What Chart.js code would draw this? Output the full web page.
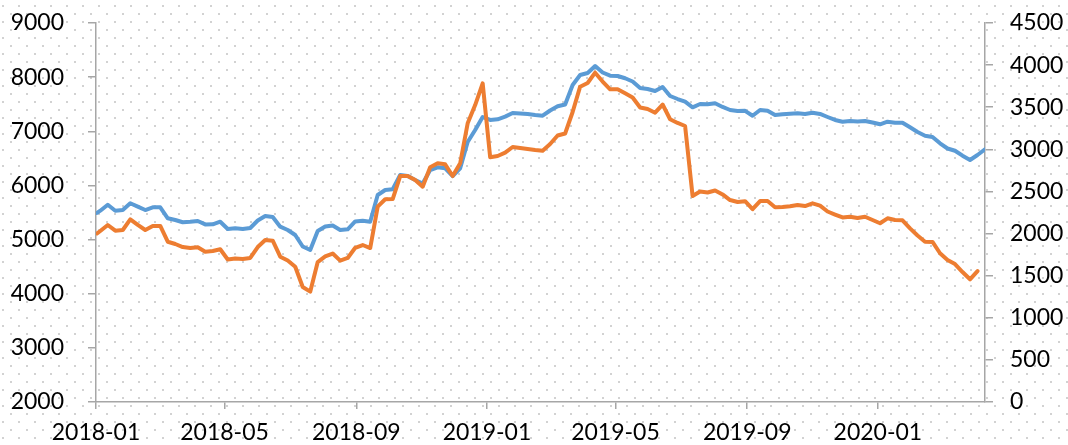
<!DOCTYPE html>
<html>
<head>
<meta charset="utf-8">
<script src="https://cdn.jsdelivr.net/npm/chart.js@4.4.1/dist/chart.umd.min.js"></script>
<style>
  html, body { margin: 0; padding: 0; background: #fff; }
  #wrap { width: 1068px; height: 445px; }
</style>
</head>
<body>
<div id="wrap"><canvas id="c" width="1068" height="445"></canvas></div>
<script>
// ---- DATA ----
const categories = [
  "2018-01-02",
  "2018-01-05","2018-01-12","2018-01-19","2018-01-26","2018-02-02","2018-02-09","2018-02-16","2018-02-23",
  "2018-03-02","2018-03-09","2018-03-16","2018-03-23","2018-03-30","2018-04-06","2018-04-13","2018-04-20","2018-04-27",
  "2018-05-04","2018-05-11","2018-05-18","2018-05-25","2018-06-01","2018-06-08","2018-06-15","2018-06-22","2018-06-29",
  "2018-07-06","2018-07-13","2018-07-20","2018-07-27","2018-08-03","2018-08-10","2018-08-17","2018-08-24","2018-08-31",
  "2018-09-07","2018-09-14","2018-09-21","2018-09-28","2018-10-05","2018-10-12","2018-10-19","2018-10-26",
  "2018-11-02","2018-11-09","2018-11-16","2018-11-23","2018-11-30","2018-12-07","2018-12-14","2018-12-21","2018-12-28",
  "2019-01-04","2019-01-11","2019-01-18","2019-01-25","2019-02-01","2019-02-08","2019-02-15","2019-02-22",
  "2019-03-01","2019-03-08","2019-03-15","2019-03-22","2019-03-29","2019-04-05","2019-04-12","2019-04-19","2019-04-26",
  "2019-05-03","2019-05-10","2019-05-17","2019-05-24","2019-05-31","2019-06-07","2019-06-14","2019-06-21","2019-06-28",
  "2019-07-05","2019-07-12","2019-07-19","2019-07-26","2019-08-02","2019-08-09","2019-08-16","2019-08-23","2019-08-30",
  "2019-09-06","2019-09-13","2019-09-20","2019-09-27","2019-10-04","2019-10-11","2019-10-18","2019-10-25",
  "2019-11-01","2019-11-08","2019-11-15","2019-11-22","2019-11-29","2019-12-06","2019-12-13","2019-12-20","2019-12-27",
  "2020-01-03","2020-01-10","2020-01-17","2020-01-24","2020-01-31","2020-02-07","2020-02-14","2020-02-21","2020-02-28",
  "2020-03-06","2020-03-13","2020-03-20","2020-03-27","2020-04-03","2020-04-10"
];

// left axis series (blue)
const seriesLeft = [
  5493,
  5533,5644,5533,5546,5670,5608,5546,5596,
  5596,5393,5362,5320,5328,5343,5280,5282,5330,
  5195,5208,5195,5214,5352,5436,5417,5238,5177,
  5084,4872,4807,5158,5241,5260,5177,5190,5334,
  5348,5330,5823,5916,5929,6193,6174,6100,
  6036,6285,6335,6316,6174,6316,6802,7024,7264,
  7209,7222,7270,7338,7329,7320,7301,7288,
  7384,7462,7495,7855,8040,8077,8206,8086,8027,
  8021,7979,7920,7800,7781,7744,7818,7652,7596,
  7547,7443,7504,7499,7517,7449,7393,7375,7378,
  7287,7393,7380,7301,7314,7325,7332,7320,
  7344,7320,7264,7209,7177,7190,7181,7190,7162,
  7129,7177,7159,7159,7074,6987,6919,6895,6778,
  6682,6641,6549,6470,6562,6667
];

// right axis series (orange)
const seriesRight = [
  2001,
  2030,2102,2034,2042,2169,2102,2042,2090,
  2090,1903,1876,1840,1828,1837,1785,1793,1813,
  1692,1704,1698,1710,1840,1923,1915,1725,1680,
  1606,1365,1310,1662,1728,1763,1678,1710,1831,
  1864,1828,2319,2407,2410,2683,2683,2636,
  2556,2787,2834,2822,2683,2834,3309,3526,3784,
  2906,2921,2960,3028,3016,3004,2992,2984,
  3063,3164,3188,3443,3744,3788,3910,3805,3713,
  3713,3665,3615,3497,3479,3435,3532,3357,3313,
  3277,2446,2499,2487,2511,2464,2398,2375,2384,
  2289,2386,2386,2312,2315,2324,2339,2327,
  2359,2331,2262,2226,2191,2200,2185,2200,2161,
  2122,2181,2161,2157,2062,1977,1903,1900,1766,
  1686,1638,1543,1457,1555,null
];

const xTickDates  = ["2018-01-01","2018-05-01","2018-09-01","2019-01-01","2019-05-01","2019-09-01","2020-01-01"];
const xTickLabels = ["2018-01","2018-05","2018-09","2019-01","2019-05","2019-09","2020-01"];

// ---- helpers ----
const BASE = Date.UTC(2018, 0, 1);
function dayOf(s) {
  const p = s.split("-").map(Number);
  return Math.round((Date.UTC(p[0], p[1] - 1, p[2]) - BASE) / 86400000);
}
const xs = categories.map(dayOf);
const leftPts = xs.map((x, i) => ({ x: x, y: seriesLeft[i] }));
const rightPts = xs.map((x, i) => ({ x: x, y: seriesRight[i] }));
const tickDays = xTickDates.map(dayOf);

const FONT = { family: "Lato, 'Open Sans', sans-serif", size: 23 };
const AXIS = "#a6a6a6";
const plain = (v) => String(v);
const fitVertical = (w) => (s) => { s.width = w; s.paddingTop = 0; s.paddingBottom = 0; };

const dotBg = {
  id: "dotBg",
  beforeDraw(chart) {
    const ctx = chart.ctx;
    ctx.save();
    ctx.fillStyle = "#ffffff";
    ctx.fillRect(0, 0, chart.width, chart.height);
    ctx.fillStyle = "#d2d2d2";
    let j = 0;
    for (let y = 5; y < chart.height; y += 8, j++) {
      const off = (j % 2) ? 10 : 2;
      for (let x = off; x < chart.width; x += 16) {
        ctx.fillRect(x, y, 2, 2);
      }
    }
    ctx.restore();
  }
};

new Chart(document.getElementById("c"), {
  type: "line",
  data: {
    datasets: [
      { label: "left", data: leftPts, yAxisID: "y", borderColor: "#5B9BD5", borderWidth: 4,
        pointRadius: 0, tension: 0, borderJoinStyle: "round", borderCapStyle: "round", order: 2, fill: false },
      { label: "right", data: rightPts, yAxisID: "y1", borderColor: "#ED7D31", borderWidth: 4,
        pointRadius: 0, tension: 0, borderJoinStyle: "round", borderCapStyle: "round", order: 1, fill: false }
    ]
  },
  options: {
    responsive: false,
    animation: false,
    devicePixelRatio: 1,
    layout: { padding: { top: 23, left: 0, right: 0, bottom: 0 } },
    plugins: { legend: { display: false }, tooltip: { enabled: false } },
    scales: {
      x: {
        type: "linear",
        min: 0,
        max: xs[xs.length - 1],
        afterBuildTicks: (s) => { s.ticks = tickDays.map(v => ({ value: v })); },
        afterFit: (s) => { s.height = 43; s.paddingLeft = 0; s.paddingRight = 0; },
        ticks: {
          autoSkip: false, maxRotation: 0, minRotation: 0, padding: 10,
          color: "#000", font: FONT,
          callback: (v) => { const i = tickDays.indexOf(v); return i >= 0 ? xTickLabels[i] : ""; }
        },
        grid: { drawOnChartArea: false, drawTicks: true, tickLength: 7, color: AXIS, lineWidth: 1.5 },
        border: { display: true, color: AXIS, width: 1.5 }
      },
      y: {
        position: "left",
        min: 2000, max: 9000,
        afterFit: fitVertical(96),
        ticks: { stepSize: 1000, padding: 24, color: "#000", font: FONT, callback: plain },
        grid: { drawOnChartArea: false, tickLength: 8, color: AXIS, lineWidth: 1.5 },
        border: { display: true, color: AXIS, width: 1.5 }
      },
      y1: {
        position: "right",
        min: 0, max: 4500,
        afterFit: fitVertical(83),
        ticks: { stepSize: 500, padding: 17, color: "#000", font: FONT, callback: plain },
        grid: { drawOnChartArea: false, tickLength: 8, color: AXIS, lineWidth: 1.5 },
        border: { display: true, color: AXIS, width: 1.5 }
      }
    }
  },
  plugins: [dotBg]
});
</script>
</body>
</html>
